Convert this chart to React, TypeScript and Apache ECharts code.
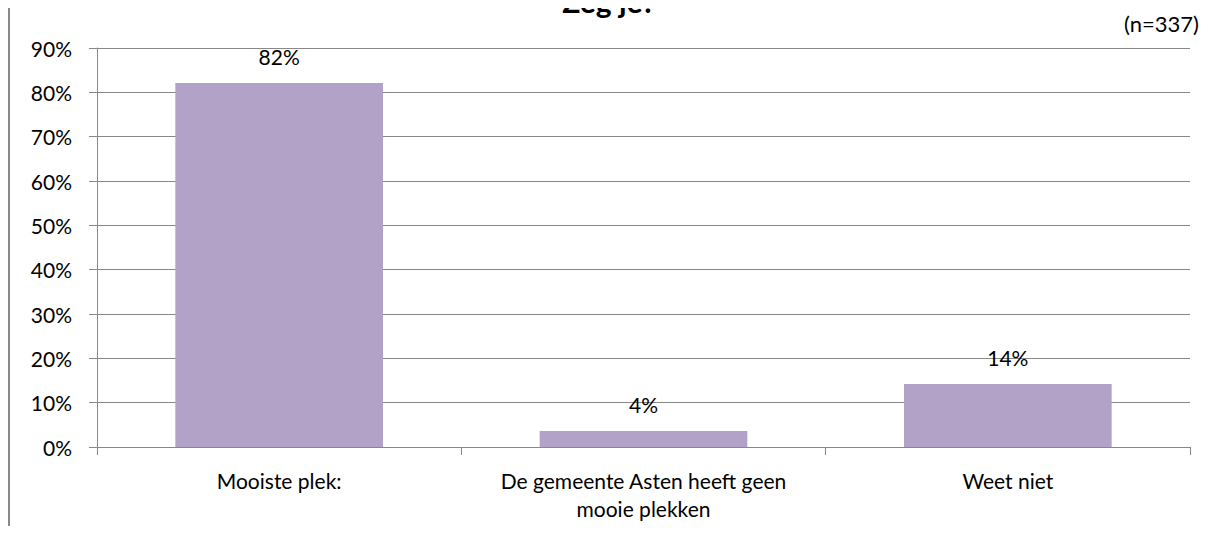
import React, { useEffect, useRef } from "react";
import * as echarts from "echarts";

const categories = ["Mooiste plek:", "De gemeente Asten heeft geen\nmooie plekken", "Weet niet"];
const values = [82.1, 3.6, 14.2];
const valueLabels = ["82%", "4%", "14%"];
const yTicks = [0, 10, 20, 30, 40, 50, 60, 70, 80, 90];
const titleText = "Zeg je?";
const noteText = "(n=337)";

const FONT = "Lato, 'Liberation Sans', sans-serif";
const GRAY = "#888888";

export default function App() {
  const ref = useRef<HTMLDivElement>(null);
  useEffect(() => {
    if (!ref.current) return;
    const chart = echarts.init(ref.current, undefined, { renderer: "svg" });
    chart.setOption({
      animation: false,
      backgroundColor: "#ffffff",
      textStyle: { fontFamily: FONT },
      grid: { left: 97, right: 18, top: 48, bottom: 87, containLabel: false },
      xAxis: {
        type: "category",
        data: categories,
        axisLine: { show: true, lineStyle: { color: GRAY, width: 1 } },
        axisTick: { show: true, alignWithLabel: false, length: 8, lineStyle: { color: GRAY } },
        axisLabel: { color: "#000", fontSize: 21, fontFamily: FONT, lineHeight: 28, margin: 19, interval: 0 },
        splitLine: { show: false },
      },
      yAxis: {
        type: "value",
        min: yTicks[0],
        max: yTicks[yTicks.length - 1],
        interval: 10,
        axisLine: { show: true, lineStyle: { color: GRAY, width: 1 } },
        axisTick: { show: true, length: 8, lineStyle: { color: GRAY } },
        axisLabel: { color: "#000", fontSize: 21, fontFamily: FONT, margin: 25, formatter: (v: number) => v + "%" },
        splitLine: { show: true, lineStyle: { color: GRAY, width: 1 } },
      },
      series: [
        {
          type: "bar",
          data: values,
          barWidth: "57%",
          itemStyle: { color: "#B3A2C7" },
          label: {
            show: true,
            position: "top",
            distance: 16,
            color: "#000",
            fontSize: 21,
            fontFamily: FONT,
            formatter: (p: any) => valueLabels[p.dataIndex],
          },
        },
      ],
      graphic: [
        {
          type: "line",
          shape: { x1: 9, y1: 0, x2: 9, y2: 534 },
          style: { stroke: GRAY, lineWidth: 2 },
        },
        {
          type: "text",
          x: 609,
          y: 1,
          style: {
            text: titleText,
            font: "bold 30px " + FONT,
            fill: "#000",
            textAlign: "center",
            textVerticalAlign: "middle",
          },
        },
        {
          type: "text",
          x: 1199,
          y: 23,
          style: {
            text: noteText,
            font: "22px " + FONT,
            fill: "#000",
            textAlign: "right",
            textVerticalAlign: "middle",
          },
        },
      ],
    });
    return () => chart.dispose();
  }, []);
  return <div ref={ref} style={{ width: 1208, height: 534, margin: -8 }} />;
}
